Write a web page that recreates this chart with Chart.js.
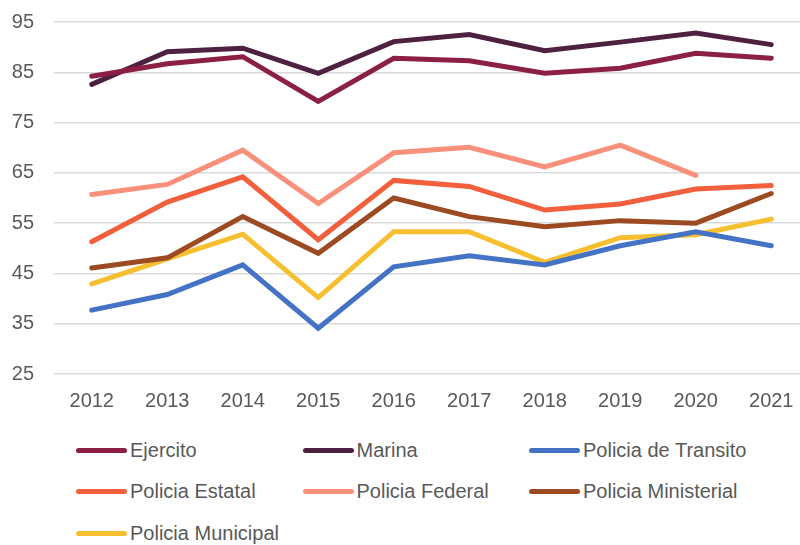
<!DOCTYPE html>
<html>
<head>
<meta charset="utf-8">
<script src="https://cdn.jsdelivr.net/npm/chart.js@4"></script>
<style>
    html, body { margin: 0; padding: 0; background: #fff; overflow: hidden; }
    #wrap { position: relative; width: 800px; height: 545px; overflow: hidden; }
    #plot { position: absolute; left: 0; top: -10px; width: 809px; height: 430px; }
    #legend { position: absolute; left: 76px; top: 430px; width: 720px; }
    .item { position: absolute; display: flex; align-items: center; height: 40px;
            font-family: 'Liberation Sans', Arial, sans-serif; font-size: 20px; color: #595959; }
    .swatch { width: 51px; height: 5px; border-radius: 3px; margin-right: 3px; }
</style>
</head>
<body>
<div id="wrap">
    <div id="plot"><canvas id="chart"></canvas></div>
    <div id="legend"></div>
</div>
<script>
// Years on the x axis
const years = ['2012', '2013', '2014', '2015', '2016', '2017', '2018', '2019', '2020', '2021'];

// Series values
const ejercito = [84.2, 86.7, 88.1, 79.2, 87.8, 87.3, 84.8, 85.8, 88.8, 87.8];
const marina = [82.6, 89.1, 89.8, 84.8, 91.1, 92.5, 89.3, 91.0, 92.8, 90.5];
const transito = [37.7, 40.8, 46.7, 34.1, 46.3, 48.5, 46.7, 50.5, 53.3, 50.5];
const estatal = [51.3, 59.2, 64.2, 51.7, 63.5, 62.3, 57.6, 58.8, 61.8, 62.5];
const federal = [60.7, 62.7, 69.5, 58.9, 69.0, 70.1, 66.2, 70.5, 64.5, null];
const ministerial = [46.1, 48.1, 56.3, 49.0, 60.0, 56.3, 54.3, 55.5, 55.0, 60.9];
const municipal = [42.9, 47.9, 52.8, 40.2, 53.3, 53.3, 47.2, 52.1, 52.7, 55.8];

const seriesNames = ['Ejercito', 'Marina', 'Policia de Transito', 'Policia Estatal',
    'Policia Federal', 'Policia Ministerial', 'Policia Municipal'];
const seriesData = [ejercito, marina, transito, estatal, federal, ministerial, municipal];
const seriesColors = ['#8c1f45', '#4e2140', '#4472c4', '#f25f3c', '#f8907b', '#9c4a22', '#f6bf2f'];

const yTicks = [25, 35, 45, 55, 65, 75, 85, 95];

const textColor = '#595959';
const font = "'Liberation Sans', Arial, sans-serif";

const datasets = seriesNames.map((name, i) => ({
    label: name,
    data: seriesData[i],
    borderColor: seriesColors[i],
    backgroundColor: seriesColors[i],
    borderWidth: 5,
    borderCapStyle: 'round',
    borderJoinStyle: 'miter',
    pointRadius: 0,
    tension: 0,
    spanGaps: false
}));

const ctx = document.getElementById('chart').getContext('2d');
const chart = new Chart(ctx, {
    type: 'line',
    data: { labels: years, datasets: datasets },
    options: {
        responsive: true,
        maintainAspectRatio: false,
        animation: false,
        layout: { padding: 0 },
        plugins: {
            legend: { display: false },
            tooltip: { enabled: false }
        },
        scales: {
            x: {
                offset: true,
                grid: { display: false },
                border: { display: false },
                ticks: { color: textColor, font: { family: font, size: 20 }, padding: 7, maxRotation: 0 }
            },
            y: {
                min: 25,
                max: 95,
                afterBuildTicks: (scale) => { scale.ticks = yTicks.map(v => ({ value: v })); },
                afterFit: (scale) => { scale.width = 54; },
                grid: { color: '#d9d9d9', lineWidth: 1.5, drawTicks: false },
                border: { display: false },
                ticks: { color: textColor, font: { family: font, size: 20 }, padding: 20 }
            }
        }
    }
});

// Legend laid out in columns, like the original
const legendEl = document.getElementById('legend');
chart.data.datasets.forEach((ds, i) => {
    const item = document.createElement('div');
    item.className = 'item';
    item.style.left = (i % 3) * 226.5 + 'px';
    item.style.top = Math.floor(i / 3) * 41.5 + 'px';
    const sw = document.createElement('span');
    sw.className = 'swatch';
    sw.style.background = ds.borderColor;
    const label = document.createElement('span');
    label.textContent = ds.label;
    item.appendChild(sw);
    item.appendChild(label);
    legendEl.appendChild(item);
});
</script>
</body>
</html>
